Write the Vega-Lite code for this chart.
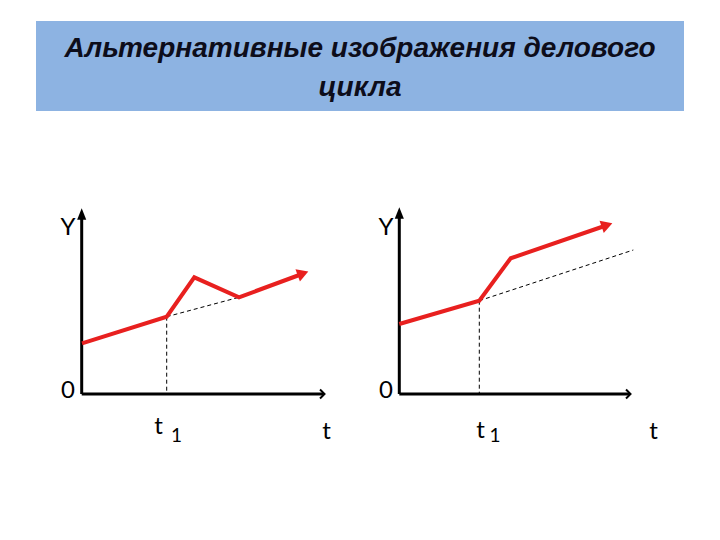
{
  "$schema": "https://vega.github.io/schema/vega-lite/v6.json",
  "width": 720,
  "height": 540,
  "autosize": {"type": "fit", "contains": "padding"},
  "padding": 0,
  "background": "white",
  "config": {"view": {"stroke": null}},
  "datasets": {
    "band": [{"x": 36, "x2": 684, "y": 429, "y2": 519}],
    "titles": [
      {"x": 360, "y": 491, "label": "Альтернативные изображения делового"},
      {"x": 360, "y": 452, "label": "цикла"}
    ],
    "lines": [
      {"id": "ax1y", "style": "axis", "o": 1, "x": 81.7, "y": 146},
      {"id": "ax1y", "style": "axis", "o": 2, "x": 81.7, "y": 326},
      {"id": "ax1x", "style": "axis", "o": 1, "x": 81.7, "y": 146},
      {"id": "ax1x", "style": "axis", "o": 2, "x": 324, "y": 146},
      {"id": "red1", "style": "red", "o": 1, "x": 82, "y": 196.7},
      {"id": "red1", "style": "red", "o": 2, "x": 166.7, "y": 223.3},
      {"id": "red1", "style": "red", "o": 3, "x": 194.3, "y": 262.7},
      {"id": "red1", "style": "red", "o": 4, "x": 239, "y": 242.7},
      {"id": "red1", "style": "red", "o": 5, "x": 302, "y": 266},
      {"id": "tr1", "style": "dash", "o": 1, "x": 166.7, "y": 223.3},
      {"id": "tr1", "style": "dash", "o": 2, "x": 239, "y": 242.7},
      {"id": "vt1", "style": "dash", "o": 1, "x": 166.7, "y": 223.3},
      {"id": "vt1", "style": "dash", "o": 2, "x": 166.7, "y": 146},
      {"id": "ax2y", "style": "axis", "o": 1, "x": 399.3, "y": 146},
      {"id": "ax2y", "style": "axis", "o": 2, "x": 399.3, "y": 327},
      {"id": "ax2x", "style": "axis", "o": 1, "x": 399.3, "y": 146},
      {"id": "ax2x", "style": "axis", "o": 2, "x": 630, "y": 146},
      {"id": "red2", "style": "red", "o": 1, "x": 399.3, "y": 216},
      {"id": "red2", "style": "red", "o": 2, "x": 479.3, "y": 239.3},
      {"id": "red2", "style": "red", "o": 3, "x": 510.7, "y": 281.7},
      {"id": "red2", "style": "red", "o": 4, "x": 606, "y": 314.5},
      {"id": "tr2", "style": "dash", "o": 1, "x": 479.3, "y": 239.3},
      {"id": "tr2", "style": "dash", "o": 2, "x": 633.3, "y": 290},
      {"id": "vt2", "style": "dash", "o": 1, "x": 479.3, "y": 239.3},
      {"id": "vt2", "style": "dash", "o": 2, "x": 479.3, "y": 146}
    ],
    "heads": [
      {"kind": "red", "x": 303, "y": 266.5, "angle": 340},
      {"kind": "red", "x": 607, "y": 315, "angle": 341},
      {"kind": "up", "x": 81.7, "y": 326, "angle": 0},
      {"kind": "up", "x": 399.3, "y": 327, "angle": 0},
      {"kind": "open", "x": 324.5, "y": 146, "angle": 0},
      {"kind": "open", "x": 630.5, "y": 146, "angle": 0}
    ],
    "labels": [
      {"x": 68, "y": 312, "label": "Y", "size": 24},
      {"x": 68, "y": 149, "label": "0", "size": 24},
      {"x": 158.5, "y": 113, "label": "t", "size": 24},
      {"x": 176.5, "y": 104, "label": "1", "size": 19},
      {"x": 326.5, "y": 108, "label": "t", "size": 24},
      {"x": 386, "y": 312, "label": "Y", "size": 24},
      {"x": 386, "y": 149, "label": "0", "size": 24},
      {"x": 480.5, "y": 109, "label": "t", "size": 24},
      {"x": 495, "y": 104, "label": "1", "size": 19},
      {"x": 653.5, "y": 108, "label": "t", "size": 24}
    ]
  },
  "layer": [
    {
      "data": {"name": "band"},
      "mark": {"type": "rect", "color": "#8DB3E2"},
      "encoding": {
        "x": {"field": "x", "type": "quantitative", "scale": {"domain": [0, 720], "nice": false, "zero": false}, "axis": null},
        "x2": {"field": "x2"},
        "y": {"field": "y", "type": "quantitative", "scale": {"domain": [0, 540], "nice": false, "zero": false}, "axis": null},
        "y2": {"field": "y2"}
      }
    },
    {
      "data": {"name": "titles"},
      "mark": {"type": "text", "font": "Liberation Sans", "fontStyle": "italic", "fontWeight": "bold", "fontSize": 28, "color": "#0d0d1a", "align": "center", "baseline": "middle"},
      "encoding": {
        "x": {"field": "x", "type": "quantitative"},
        "y": {"field": "y", "type": "quantitative"},
        "text": {"field": "label"}
      }
    },
    {
      "data": {"name": "lines"},
      "transform": [{"filter": "datum.style === 'dash'"}],
      "mark": {"type": "line", "color": "black", "strokeWidth": 1, "strokeDash": [4, 3]},
      "encoding": {
        "x": {"field": "x", "type": "quantitative"},
        "y": {"field": "y", "type": "quantitative"},
        "detail": {"field": "id"},
        "order": {"field": "o"}
      }
    },
    {
      "data": {"name": "lines"},
      "transform": [{"filter": "datum.style === 'axis'"}],
      "mark": {"type": "line", "color": "black", "strokeWidth": 3},
      "encoding": {
        "x": {"field": "x", "type": "quantitative"},
        "y": {"field": "y", "type": "quantitative"},
        "detail": {"field": "id"},
        "order": {"field": "o"}
      }
    },
    {
      "data": {"name": "lines"},
      "transform": [{"filter": "datum.style === 'red'"}],
      "mark": {"type": "line", "color": "#E8201F", "strokeWidth": 4, "strokeJoin": "miter"},
      "encoding": {
        "x": {"field": "x", "type": "quantitative"},
        "y": {"field": "y", "type": "quantitative"},
        "detail": {"field": "id"},
        "order": {"field": "o"}
      }
    },
    {
      "data": {"name": "heads"},
      "transform": [{"filter": "datum.kind === 'red'"}],
      "mark": {"type": "point", "shape": "triangle-right", "filled": true, "color": "#E8201F", "size": 170, "opacity": 1},
      "encoding": {
        "x": {"field": "x", "type": "quantitative"},
        "y": {"field": "y", "type": "quantitative"},
        "angle": {"field": "angle", "type": "quantitative", "scale": null}
      }
    },
    {
      "data": {"name": "heads"},
      "transform": [{"filter": "datum.kind === 'up'"}],
      "mark": {"type": "point", "shape": "M0,-1L0.8,1L-0.8,1Z", "filled": true, "color": "black", "size": 130, "opacity": 1},
      "encoding": {
        "x": {"field": "x", "type": "quantitative"},
        "y": {"field": "y", "type": "quantitative"}
      }
    },
    {
      "data": {"name": "heads"},
      "transform": [{"filter": "datum.kind === 'open'"}],
      "mark": {"type": "point", "shape": "M-1,-1L0,0L-1,1", "filled": false, "color": "black", "strokeWidth": 2, "size": 80, "opacity": 1},
      "encoding": {
        "x": {"field": "x", "type": "quantitative"},
        "y": {"field": "y", "type": "quantitative"}
      }
    },
    {
      "data": {"name": "labels"},
      "mark": {"type": "text", "font": "Lato", "color": "black", "align": "center", "baseline": "middle"},
      "encoding": {
        "x": {"field": "x", "type": "quantitative"},
        "y": {"field": "y", "type": "quantitative"},
        "text": {"field": "label"},
        "size": {"field": "size", "type": "quantitative", "scale": null}
      }
    }
  ]
}
